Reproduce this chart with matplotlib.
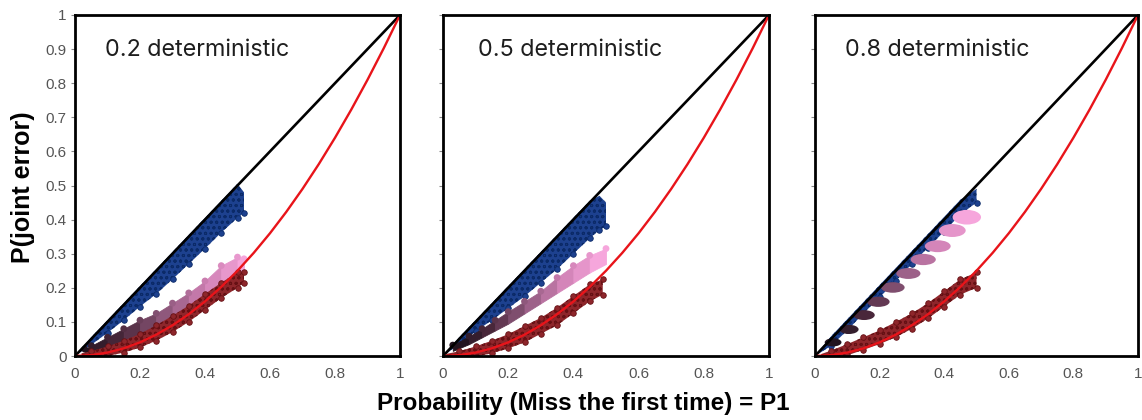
import numpy as np
import matplotlib.pyplot as plt
from matplotlib.colors import LinearSegmentedColormap
from matplotlib.patches import Ellipse

# ---- values ----
panel_labels = ['0.2 deterministic', '0.5 deterministic', '0.8 deterministic']
x_ticks = [0, 0.2, 0.4, 0.6, 0.8, 1]
x_tick_labels = ['0', '0.2', '0.4', '0.6', '0.8', '1']
y_ticks = [0, 0.1, 0.2, 0.3, 0.4, 0.5, 0.6, 0.7, 0.8, 0.9, 1]
y_tick_labels = ['0', '0.1', '0.2', '0.3', '0.4', '0.5', '0.6', '0.7', '0.8', '0.9', '1']

# reference lines: independence (black) and P1^2 (red)
diag_x = [0, 1]
diag_y = [0, 1]
curve_x = [0, 0.05, 0.1, 0.15, 0.2, 0.25, 0.3, 0.35, 0.4, 0.45, 0.5,
           0.55, 0.6, 0.65, 0.7, 0.75, 0.8, 0.85, 0.9, 0.95, 1]
curve_y = [0, 0.0025, 0.01, 0.0225, 0.04, 0.0625, 0.09, 0.1225, 0.16, 0.2025, 0.25,
           0.3025, 0.36, 0.4225, 0.49, 0.5625, 0.64, 0.7225, 0.81, 0.9025, 1]

# panel 1 (0.2 deterministic) clouds: x, lower edge, upper edge
blue1_x = [0, 0.05, 0.1, 0.15, 0.2, 0.25, 0.3, 0.35, 0.4, 0.45, 0.5, 0.52]
blue1_lo = [0, 0.033, 0.068, 0.105, 0.145, 0.182, 0.225, 0.27, 0.315, 0.362, 0.405, 0.42]
blue1_hi = [0, 0.055, 0.105, 0.155, 0.205, 0.255, 0.305, 0.355, 0.405, 0.455, 0.505, 0.48]
pink1_x = [0.03, 0.05, 0.1, 0.15, 0.2, 0.25, 0.3, 0.35, 0.4, 0.45, 0.5, 0.52]
pink1_lo = [0.005, 0.008, 0.015, 0.03, 0.05, 0.07, 0.1, 0.13, 0.165, 0.2, 0.235, 0.245]
pink1_hi = [0.02, 0.03, 0.055, 0.08, 0.105, 0.125, 0.155, 0.185, 0.22, 0.265, 0.29, 0.285]
red1_x = [0.02, 0.05, 0.1, 0.15, 0.2, 0.25, 0.3, 0.35, 0.4, 0.45, 0.5, 0.52]
red1_lo = [-0.01, -0.008, 0.0, 0.01, 0.025, 0.045, 0.07, 0.1, 0.135, 0.17, 0.2, 0.215]
red1_hi = [0.008, 0.014, 0.028, 0.045, 0.065, 0.09, 0.118, 0.148, 0.182, 0.215, 0.245, 0.245]

# panel 2 (0.5 deterministic)
blue2_x = [0, 0.05, 0.1, 0.15, 0.2, 0.25, 0.3, 0.35, 0.4, 0.45, 0.48, 0.5]
blue2_lo = [0, 0.035, 0.072, 0.105, 0.14, 0.175, 0.215, 0.255, 0.3, 0.345, 0.37, 0.38]
blue2_hi = [0, 0.055, 0.105, 0.155, 0.205, 0.255, 0.305, 0.355, 0.405, 0.455, 0.47, 0.45]
pink2_x = [0.03, 0.08, 0.12, 0.16, 0.2, 0.25, 0.3, 0.35, 0.4, 0.45, 0.5]
pink2_lo = [0.015, 0.035, 0.055, 0.075, 0.095, 0.125, 0.155, 0.185, 0.215, 0.245, 0.27]
pink2_hi = [0.032, 0.058, 0.08, 0.105, 0.13, 0.16, 0.19, 0.23, 0.265, 0.295, 0.315]
red2_x = [0.01, 0.05, 0.1, 0.15, 0.2, 0.25, 0.3, 0.35, 0.4, 0.45, 0.49]
red2_lo = [-0.01, -0.008, -0.002, 0.008, 0.022, 0.04, 0.065, 0.09, 0.125, 0.16, 0.18]
red2_hi = [0.006, 0.014, 0.028, 0.045, 0.064, 0.088, 0.112, 0.142, 0.176, 0.21, 0.225]

# panel 3 (0.8 deterministic)
blue3_x = [0, 0.05, 0.1, 0.15, 0.2, 0.25, 0.3, 0.35, 0.4, 0.45, 0.5]
blue3_lo = [0, 0.03, 0.075, 0.125, 0.172, 0.22, 0.27, 0.318, 0.365, 0.415, 0.45]
blue3_hi = [0, 0.058, 0.108, 0.158, 0.208, 0.258, 0.308, 0.358, 0.408, 0.458, 0.49]
blob3_x = [0.056, 0.105, 0.152, 0.196, 0.241, 0.289, 0.335, 0.38, 0.425, 0.47]
blob3_y = [0.040, 0.078, 0.120, 0.159, 0.201, 0.242, 0.283, 0.322, 0.368, 0.407]
blob3_w = [0.052, 0.06, 0.066, 0.07, 0.073, 0.075, 0.078, 0.08, 0.083, 0.088]
blob3_h = [0.024, 0.027, 0.029, 0.03, 0.031, 0.032, 0.033, 0.035, 0.038, 0.043]
red3_x = [0.02, 0.05, 0.1, 0.15, 0.2, 0.25, 0.3, 0.35, 0.4, 0.45, 0.5]
red3_lo = [-0.01, -0.006, 0.002, 0.018, 0.035, 0.055, 0.08, 0.11, 0.145, 0.18, 0.2]
red3_hi = [0.006, 0.016, 0.035, 0.055, 0.075, 0.1, 0.125, 0.155, 0.19, 0.225, 0.245]

# ---- style ----
BLUE = '#1d418f'
BLUE_EDGE = '#0b2a68'
RED_CLOUD = '#8e262b'
RED_EDGE = '#661014'
pink_cmap = LinearSegmentedColormap.from_list(
    'pinks', ['#221420', '#4e2a3e', '#8e587c', '#cf80b4', '#f6a6dc'])
TICK_GREY = '#555555'

plt.rcParams['font.family'] = ['Liberation Sans', 'DejaVu Sans']
plt.rcParams['hatch.linewidth'] = 0.7


def draw_cloud(ax, xs, lo, hi, face, edge, z, rim='both'):
    # circle hatch mimics a dense open-circle scatter, rim circles roughen edges
    ax.fill_between(xs, lo, hi, facecolor=face, edgecolor=edge, lw=0,
                    hatch='ooo', zorder=z)
    if rim in ('lo', 'both'):
        ax.scatter(xs[1:], lo[1:], s=16, facecolors=face, edgecolors=edge,
                   linewidths=0.6, zorder=z)
    if rim in ('hi', 'both'):
        ax.scatter(xs[1:], hi[1:], s=16, facecolors=face, edgecolors=edge,
                   linewidths=0.6, zorder=z)


def draw_gradient_band(ax, xs, lo, hi, z):
    n = len(xs) - 1
    for i in range(n):
        c = pink_cmap(i / max(n - 1, 1))
        ax.fill_between(xs[i:i + 2], lo[i:i + 2], hi[i:i + 2], color=c,
                        lw=0.6, edgecolor=c, zorder=z)
    cols = [pink_cmap(i / (len(xs) - 1)) for i in range(len(xs))]
    ax.scatter(xs, hi, s=24, c=cols, lw=0, zorder=z)


fig = plt.figure(figsize=(11.42, 4.2), dpi=100)
rects = [
    [75 / 1142, 64 / 420, 325 / 1142, 341 / 420],
    [443 / 1142, 64 / 420, 326 / 1142, 341 / 420],
    [815 / 1142, 64 / 420, 323 / 1142, 341 / 420],
]
label_x = [0.092, 0.107, 0.093]

axes = [fig.add_axes(r) for r in rects]

# panel contents
draw_cloud(axes[0], blue1_x, blue1_lo, blue1_hi, BLUE, BLUE_EDGE, 2, rim='lo')
draw_gradient_band(axes[0], pink1_x, pink1_lo, pink1_hi, 3)
draw_cloud(axes[0], red1_x, red1_lo, red1_hi, RED_CLOUD, RED_EDGE, 4)

draw_cloud(axes[1], blue2_x, blue2_lo, blue2_hi, BLUE, BLUE_EDGE, 2, rim='lo')
draw_gradient_band(axes[1], pink2_x, pink2_lo, pink2_hi, 3)
draw_cloud(axes[1], red2_x, red2_lo, red2_hi, RED_CLOUD, RED_EDGE, 4)

draw_cloud(axes[2], blue3_x, blue3_lo, blue3_hi, BLUE, BLUE_EDGE, 2, rim='lo')
for i, (bx, by, bw, bh) in enumerate(zip(blob3_x, blob3_y, blob3_w, blob3_h)):
    c = pink_cmap(i / (len(blob3_x) - 1))
    axes[2].add_patch(Ellipse((bx, by), bw, bh, color=c, lw=0, zorder=3))
draw_cloud(axes[2], red3_x, red3_lo, red3_hi, RED_CLOUD, RED_EDGE, 4)

for i, ax in enumerate(axes):
    ax.plot(diag_x, diag_y, color='black', lw=1.9, zorder=5)
    ax.plot(curve_x, curve_y, color='#e8141a', lw=1.7, zorder=5)
    ax.text(label_x[i], 0.897, panel_labels[i], ha='left', va='center',
            fontsize=16.8, family=['Inter', 'DejaVu Sans'], color='#1e1e1e')
    ax.set_xlim(0, 1)
    ax.set_ylim(0, 1)
    for s in ax.spines.values():
        s.set_linewidth(2.0)
        s.set_color('black')
        s.set_zorder(6)
    ax.set_xticks(x_ticks)
    ax.set_xticklabels(x_tick_labels)
    ax.set_yticks(y_ticks)
    if i == 0:
        ax.set_yticklabels(y_tick_labels)
    else:
        ax.set_yticklabels([])
    ax.tick_params(axis='x', length=0, pad=8, labelsize=11, labelcolor=TICK_GREY)
    ax.tick_params(axis='y', length=3, width=0.8, color='#888888', pad=3,
                   labelsize=11, labelcolor=TICK_GREY)

fig.text(0.02, 0.555, 'P(joint error)', rotation=90, ha='center', va='center',
         fontsize=18, fontweight='bold')
fig.text(0.511, 0.04, 'Probability (Miss the first time) = P1', ha='center',
         va='center', fontsize=17.5, fontweight='bold')

fig.savefig('out.png', dpi=100)
